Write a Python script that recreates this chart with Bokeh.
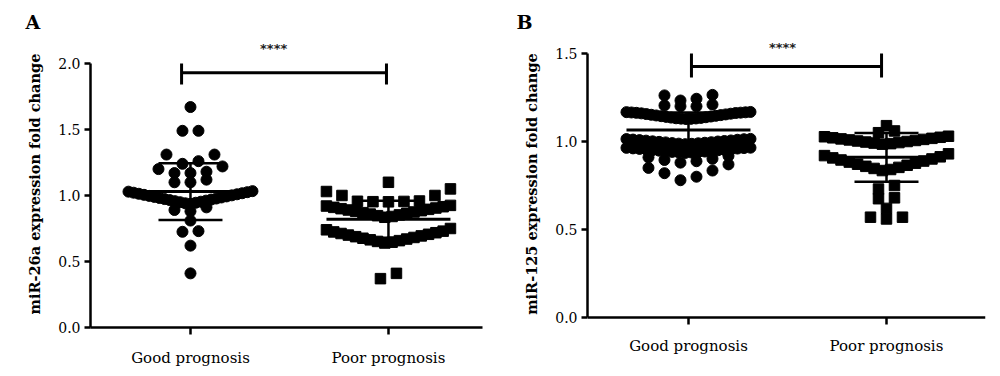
import numpy as np
from bokeh.plotting import figure
from bokeh.layouts import row
from bokeh.models import (FixedTicker, Label, Range1d, PrintfTickFormatter, Title,
                          LinearAxis)
from bokeh.embed import file_html
from bokeh.resources import INLINE

# ---------------- data ----------------
categories = ["Good prognosis", "Poor prognosis"]

mir26a_good = [1.67,
               1.49, 1.49,
               1.24, 1.26, 1.31, 1.31,
               1.17, 1.17, 1.18, 1.20, 1.22,
               1.10, 1.10, 1.12,
               0.937, 0.941, 0.945, 0.949, 0.953, 0.957, 0.961, 0.965, 0.969,
               0.973, 0.977, 0.981, 0.985, 0.989, 0.993, 0.997, 1.001, 1.005,
               1.009, 1.013, 1.017, 1.021, 1.025, 1.029, 1.033,
               0.88, 0.89, 0.91,
               0.81,
               0.725, 0.73,
               0.62,
               0.41]
mir26a_poor = [1.10,
               0.952, 0.953, 0.955, 0.956, 0.958, 1.00, 1.00, 1.03, 1.05,
               0.835, 0.841, 0.847, 0.853, 0.859, 0.865, 0.870, 0.875, 0.880,
               0.885, 0.890, 0.895, 0.900, 0.905, 0.910, 0.915, 0.920, 0.925,
               0.640, 0.646, 0.652, 0.658, 0.664, 0.670, 0.676, 0.682, 0.688,
               0.694, 0.700, 0.706, 0.712, 0.718, 0.724, 0.730, 0.740, 0.750,
               0.37, 0.41]
mir125_good = [1.233, 1.243, 1.262, 1.265,
               1.200, 1.200, 1.205, 1.210,
               1.128, 1.129, 1.130, 1.131, 1.132, 1.134, 1.136, 1.138, 1.140, 1.142,
               1.144, 1.146, 1.148, 1.150, 1.152, 1.154, 1.156, 1.158, 1.160, 1.162,
               1.163, 1.164, 1.165, 1.166, 1.167, 1.168,
               0.985, 0.987, 0.988, 0.990, 0.991, 0.993, 0.995, 0.996, 0.998, 1.000,
               1.001, 1.003, 1.005, 1.006, 1.008, 1.010, 1.011, 1.013, 1.014, 1.015,
               0.935, 0.937, 0.938, 0.940, 0.941, 0.943, 0.945, 0.946, 0.948, 0.950,
               0.951, 0.953, 0.955, 0.956, 0.958, 0.960, 0.961, 0.963, 0.964, 0.965,
               0.880, 0.888, 0.895, 0.902, 0.910, 0.918,
               0.780, 0.800, 0.820, 0.835, 0.850, 0.870]
mir125_poor = [1.09,
               1.05, 1.06,
               0.985, 0.988, 0.991, 0.994, 0.997, 1.000, 1.003, 1.006, 1.009, 1.012,
               1.015, 1.018, 1.021, 1.024, 1.027, 1.030,
               0.835, 0.841, 0.847, 0.853, 0.859, 0.865, 0.871, 0.877, 0.883, 0.889,
               0.895, 0.901, 0.907, 0.913, 0.920, 0.930,
               0.73, 0.75,
               0.675, 0.68,
               0.62,
               0.56, 0.57, 0.57]

mir26a_mean = [1.03, 0.82]
mir26a_sd = [0.215, 0.14]
mir125_mean = [1.065, 0.91]
mir125_sd = [0.10, 0.138]

y_ticks_a = [0.0, 0.5, 1.0, 1.5, 2.0]
y_ticks_b = [0.0, 0.5, 1.0, 1.5]

# ---------------- styling / layout constants ----------------
SERIF = "DejaVu Serif"
PX_PER_X = 198.0          # pixels per category unit
STEP = 16 / PX_PER_X      # max horizontal spacing of points
HALF_W = 62 / PX_PER_X    # half width of a scatter row / mean line
CAP_W = 32 / PX_PER_X     # half width of SD caps

# row grouping edges for the column-scatter layout (value bands drawn as one row)
rows_a_good = [0.3, 0.5, 0.68, 0.78, 0.85, 0.935, 1.035, 1.135, 1.235, 1.35, 1.55, 1.8]
rows_a_poor = [0.3, 0.5, 0.635, 0.76, 0.83, 0.94, 1.06, 1.2]
rows_b_good = [0.7, 0.875, 0.925, 0.975, 1.025, 1.125, 1.18, 1.225, 1.3]
rows_b_poor = [0.5, 0.6, 0.65, 0.7, 0.8, 0.83, 0.94, 0.975, 1.04, 1.08, 1.2]


def swarm(vals, center, edges):
    vals = np.asarray(vals, float)
    bins = np.digitize(vals, edges)
    xs = np.zeros(len(vals))
    for b in np.unique(bins):
        idx = np.where(bins == b)[0]
        idx = idx[np.argsort(vals[idx], kind="stable")]
        n = len(idx)
        s = STEP if n == 1 else min(STEP, 2 * HALF_W / (n - 1))
        slots = (np.arange(n) - (n - 1) / 2) * s
        order = sorted(range(n), key=lambda j: (round(abs(slots[j]), 9), slots[j]))
        for k, j in zip(idx, order):
            xs[k] = center + slots[j]
    return xs


def make_panel(letter, letter_offset, ylabel, good, poor, means, sds, yticks, yr,
               rows_good, rows_poor, xr, borders, bar, stars_xy, xlab_standoff, fixed_x):
    left, right, top, bottom = borders
    p = figure(width=500, height=376, x_range=Range1d(*xr), y_range=Range1d(*yr),
               output_backend="svg", toolbar_location=None,
               min_border_left=left, min_border_right=right,
               min_border_top=top, min_border_bottom=bottom)
    p.title = Title(text=letter, align="left", offset=letter_offset, standoff=16,
                    text_font=SERIF, text_font_size="19px", text_font_style="bold",
                    text_color="black")
    p.grid.visible = False
    p.outline_line_color = None
    p.background_fill_color = "white"
    p.border_fill_color = "white"

    # scatter
    xg = swarm(good, 1, rows_good)
    xp = swarm(poor, 2, rows_poor)
    p.scatter(xg, good, marker="circle", size=11, color="black")
    p.scatter(xp, poor, marker="square", size=10.5, color="black")

    # mean +/- SD
    for c, m, s in zip([1, 2], means, sds):
        p.segment(x0=[c - HALF_W], x1=[c + HALF_W], y0=[m], y1=[m], line_width=3, color="black")
        p.segment(x0=[c, c - CAP_W, c - CAP_W], x1=[c, c + CAP_W, c + CAP_W],
                  y0=[m - s, m + s, m - s], y1=[m + s, m + s, m - s],
                  line_width=2.5, color="black")

    # significance bar
    bx0, bx1, by, bt0, bt1 = bar
    p.segment(x0=[bx0, bx0, bx1], x1=[bx1, bx0, bx1], y0=[by, bt0, bt0], y1=[by, bt1, bt1],
              line_width=3, color="black")
    p.add_layout(Label(x=stars_xy[0], y=stars_xy[1], text="****", text_align="center",
                       text_baseline="middle", text_font="DejaVu Sans", text_font_size="13px",
                       text_font_style="bold", text_color="#222222"))

    # axes
    xa = p.below[0]
    xa.ticker = FixedTicker(ticks=[1, 2])
    xa.major_label_overrides = {1: categories[0], 2: categories[1]}
    p.yaxis.ticker = FixedTicker(ticks=yticks)
    p.yaxis.formatter = PrintfTickFormatter(format="%.1f")
    p.yaxis.bounds = (yticks[0], yticks[-1])
    p.axis.axis_line_width = 2.5
    p.axis.axis_line_color = "black"
    p.axis.major_tick_line_width = 2.5
    p.axis.major_tick_line_color = "black"
    p.axis.minor_tick_line_color = None
    p.axis.major_tick_in = 0
    p.yaxis.major_tick_out = 6
    xa.major_tick_out = 7
    p.axis.major_label_text_font = SERIF
    p.axis.major_label_text_color = "black"
    xa.major_label_text_font_size = "15px"
    p.yaxis.major_label_text_font_size = "14px"
    xa.major_label_standoff = xlab_standoff
    xa.axis_label_text_font_size = "0px"
    xa.axis_label_standoff = 0
    p.yaxis.major_label_standoff = 4
    p.yaxis.axis_label = ylabel
    p.yaxis.axis_label_text_font = SERIF
    p.yaxis.axis_label_text_font_style = "bold"
    p.yaxis.axis_label_text_font_size = "14.5px"
    p.yaxis.axis_label_text_color = "black"
    p.yaxis.axis_label_standoff = 12

    if fixed_x is not None:
        # axis line + ticks drawn at y = 0 (above the frame bottom); labels on a
        # second, line-less axis just below it
        xa.fixed_location = fixed_x
        xa.major_label_text_color = None
        lab = LinearAxis(ticker=FixedTicker(ticks=[1, 2]),
                         major_label_overrides={1: categories[0], 2: categories[1]},
                         axis_line_color=None, major_tick_line_color=None,
                         minor_tick_line_color=None, major_tick_in=0, major_tick_out=0,
                         major_label_standoff=fixed_x_label_standoff,
                         major_label_text_font=SERIF, major_label_text_font_size="15px",
                         major_label_text_color="black",
                         axis_label_text_font_size="0px", axis_label_standoff=0)
        p.add_layout(lab, "below")
    return p


fixed_x_label_standoff = 9

pa = make_panel("A", -65, "miR-26a expression fold change", mir26a_good, mir26a_poor,
                mir26a_mean, mir26a_sd, y_ticks_a, (0, 2.174), rows_a_good, rows_a_poor,
                (0.495, 2.475), (90, 18, 40, 49),
                (0.955, 1.99, 1.93, 1.84, 2.0), (1.42, 2.11), 14, None)
pb = make_panel("B", -71, "miR-125 expression fold change", mir125_good, mir125_poor,
                mir125_mean, mir125_sd, y_ticks_b, (-10 / 176, 1.574), rows_b_good, rows_b_poor,
                (0.49, 2.5), (87, 15, 40, 49),
                (1.015, 1.975, 1.426, 1.364, 1.5), (1.475, 1.534), 12, 0)

layout = row(pa, pb)
open("out.html", "w").write(file_html(layout, INLINE))
